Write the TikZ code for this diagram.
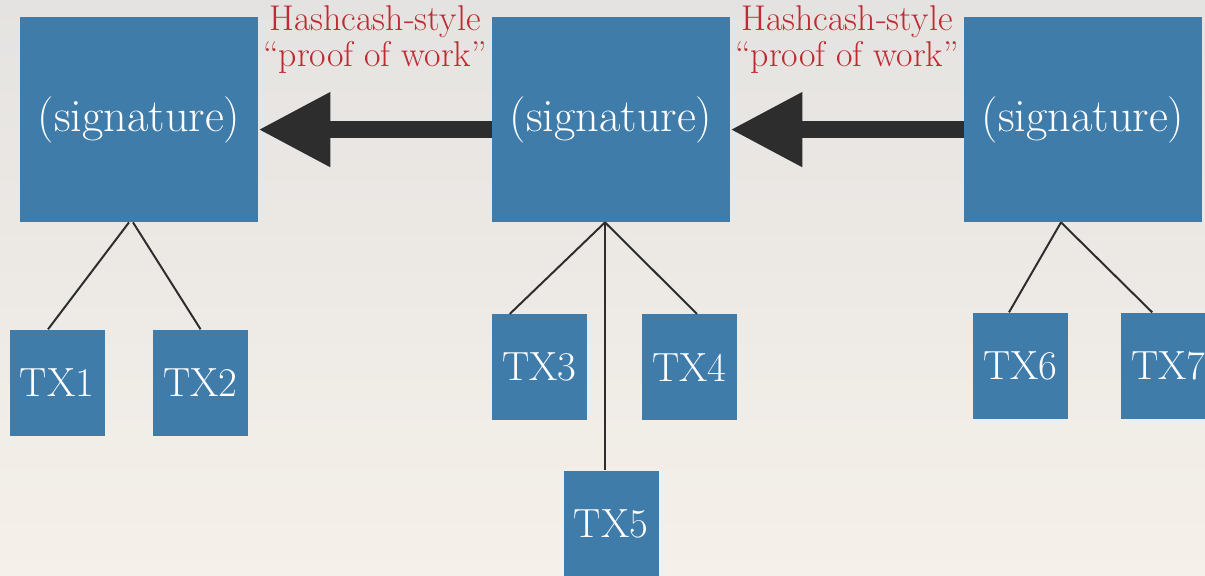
\documentclass[tikz,border=0pt]{standalone}
\usetikzlibrary{arrows.meta}
\definecolor{blockblue}{RGB}{64,124,170}
\definecolor{powred}{RGB}{188,44,50}
\definecolor{linegray}{RGB}{45,45,45}
\definecolor{bgtop}{RGB}{229,227,225}
\definecolor{bgbottom}{RGB}{245,240,233}
\begin{document}
\begin{tikzpicture}[node distance = 11.8cm,
    block/.style = {fill=blockblue, text=white, minimum width=5.95cm, minimum height=5.125cm,
                    inner sep=0pt, font=\fontsize{33}{38}\selectfont},
    tx/.style = {fill=blockblue, text=white, minimum width=2.375cm, minimum height=2.65cm,
                 inner sep=0pt, font=\fontsize{29}{32}\selectfont},
    link/.style = {draw=linegray, line width=1.4pt},
    chain/.style = {draw=linegray, line width=0.425cm, -{Triangle[length=1.8cm, width=1.75cm]}},
    pow/.style = {text=powred, align=center, font=\fontsize{25.5}{25}\selectfont}]
     % the background
     \shade[top color=bgtop, bottom color=bgbottom] (0,0) rectangle (30.125,-14.4);
     \useasboundingbox (0,0) rectangle (30.125,-14.4);
     % the nodes
     \node[block] (sig 1) at (3.475,-2.99) {(signature)};
     \node[block] (sig 2) [right of = sig 1] {(signature)};
     \node[block] (sig 3) [right of = sig 2] {(signature)};
     \node[tx] (tx 1) [below of = sig 1, node distance = 6.575cm, xshift=-2.05cm] {TX1};
     \node[tx] (tx 2) [below of = sig 1, node distance = 6.575cm, xshift=1.54cm] {TX2};
     \node[tx] (tx 3) [below of = sig 2, node distance = 6.19cm, xshift=-1.79cm] {TX3};
     \node[tx] (tx 4) [below of = sig 2, node distance = 6.19cm, xshift=1.96cm] {TX4};
     \node[tx] (tx 5) [below of = sig 2, node distance = 10.1cm] {TX5};
     \node[tx] (tx 6) [below of = sig 3, node distance = 6.15cm, xshift=-1.56cm] {TX6};
     \node[tx] (tx 7) [below of = sig 3, node distance = 6.15cm, xshift=2.14cm] {TX7};
     % the arrows
     \draw[chain] ([yshift=-0.25cm]sig 2.west) to node[pow, yshift=2.25cm] {Hashcash-style\\“proof of work”} ([yshift=-0.25cm]sig 1.east);
     \draw[chain] ([yshift=-0.25cm]sig 3.west) to node[pow, yshift=2.25cm] {Hashcash-style\\“proof of work”} ([yshift=-0.25cm]sig 2.east);
     % the tree links
     \draw[link] ([xshift=-0.25cm]sig 1.south) to ([xshift=-0.225cm]tx 1.north);
     \draw[link] ([xshift=-0.15cm]sig 1.south) to (tx 2.north);
     \draw[link] ([xshift=-0.15cm]sig 2.south) to ([xshift=-0.74cm]tx 3.north);
     \draw[link] ([xshift=-0.15cm]sig 2.south) to ([xshift=0.19cm]tx 4.north);
     \draw[link] ([xshift=-0.15cm]sig 2.south) to ([xshift=-0.15cm]tx 5.north);
     \draw[link] ([xshift=-0.55cm]sig 3.south) to ([xshift=-0.29cm]tx 6.north);
     \draw[link] ([xshift=-0.55cm]sig 3.south) to ([xshift=-0.41cm]tx 7.north);
\end{tikzpicture}
\end{document}
